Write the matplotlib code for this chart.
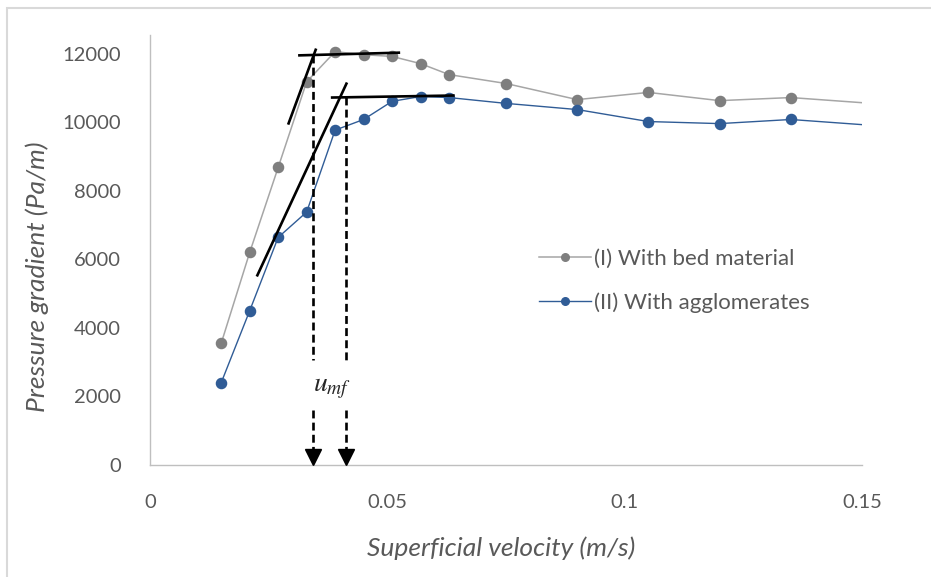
import matplotlib

matplotlib.use("Agg")
import matplotlib.pyplot as plt
from matplotlib.patches import Rectangle

# Superficial velocity (m/s)
velocity = [0.015, 0.021, 0.027, 0.033, 0.039, 0.045, 0.051, 0.057, 0.063,
            0.075, 0.090, 0.105, 0.120, 0.135, 0.150]
# Pressure gradient (Pa/m)
bed_material = [3550, 6200, 8680, 11180, 12060, 11970, 11920, 11710, 11390,
                11130, 10660, 10870, 10630, 10720, 10570]
agglomerates = [2400, 4500, 6640, 7380, 9770, 10080, 10610, 10750, 10720,
                10550, 10370, 10020, 9960, 10080, 9930]

# hand-drawn tangent lines (x0, x1), (y0, y1)
tan_bed_steep = ([0.0291, 0.0350], [9930, 12150])
tan_bed_flat = ([0.0312, 0.0527], [11950, 12030])
tan_agg_steep = ([0.0225, 0.0415], [5500, 11160])
tan_agg_flat = ([0.0381, 0.0642], [10720, 10780])

# u_mf markers
umf_x = [0.0343, 0.0413]
umf_top = [11960, 10740]

GRAY_LINE = "#a6a6a6"
GRAY_MARK = "#7f7f7f"
BLUE = "#305c96"
TEXT = "#595959"
AXIS = "#bfbfbf"

plt.rcParams["font.family"] = ["Lato", "DejaVu Sans"]

fig = plt.figure(figsize=(9.31, 5.77), dpi=100)
ax = fig.add_axes([150 / 931, 1 - 465 / 577, 712 / 931, 430 / 577])

# chart frame
fig.patches.append(Rectangle((6.5 / 931, -0.1), 2, (577 - 8) / 577 + 0.1,
                             transform=fig.transFigure, fill=False,
                             edgecolor="#d9d9d9", lw=1.5))

n = len(velocity)
ax.plot(velocity, bed_material, color=GRAY_LINE, lw=1.1, marker="o", ms=7.3,
        mfc=GRAY_MARK, mec=GRAY_MARK, markevery=list(range(n - 1)),
        label="(I) With bed material", zorder=3)
ax.plot(velocity, agglomerates, color=BLUE, lw=1.0, marker="o", ms=7.3,
        mfc=BLUE, mec=BLUE, markevery=list(range(n - 1)),
        label="(II) With agglomerates", zorder=3)

for xs, ys in (tan_bed_steep, tan_bed_flat, tan_agg_steep, tan_agg_flat):
    ax.plot(xs, ys, color="black", lw=1.9, solid_capstyle="butt", zorder=4)

for x, top in zip(umf_x, umf_top):
    ax.plot([x, x], [top, 3060], color="black", lw=1.9, ls=(0, (3, 1.6)), zorder=4)
    ax.plot([x, x], [1600, 350], color="black", lw=1.9, ls=(0, (3, 1.6)), zorder=4)
    ax.plot([x], [220], marker="v", ms=11, color="black", mec="black", zorder=5)

ax.text(0.0383, 2250, r"$u_{mf}$", fontsize=20, ha="center", va="center",
        math_fontfamily="stix", color="#262626")

ax.set_xlim(0, 0.15)
ax.set_ylim(0, 12545)
ax.set_xticks([0, 0.05, 0.1, 0.15])
ax.set_xticklabels(["0", "0.05", "0.1", "0.15"])
ax.set_yticks(range(0, 12001, 2000))
ax.tick_params(length=0, labelsize=14.5, colors=TEXT)
ax.tick_params(axis="x", pad=21)
ax.tick_params(axis="y", pad=21)

for side in ("top", "right"):
    ax.spines[side].set_visible(False)
for side in ("left", "bottom"):
    ax.spines[side].set_color(AXIS)
    ax.spines[side].set_linewidth(1.0)

ax.set_xlabel("Superficial velocity (m/s)", fontsize=19, style="italic",
              color=TEXT)
ax.set_ylabel("Pressure gradient (Pa/m)", fontsize=19, style="italic",
              color=TEXT)
ax.xaxis.set_label_coords((501 - 150) / 712, -(548 - 465) / 430)
ax.yaxis.set_label_coords((37 - 150) / 712, (465 - 277) / 430)
ax.xaxis.label.set_va("center")
ax.yaxis.label.set_va("center")

leg = ax.legend(loc="center left", bbox_to_anchor=(523 / 931, 1 - 281 / 577),
                bbox_transform=fig.transFigure, frameon=False, fontsize=16,
                handlelength=2.35, handletextpad=0.15, labelspacing=1.05,
                borderpad=0.2, markerscale=0.75, labelcolor=TEXT)

fig.savefig("out.png", dpi=100, facecolor="white")
